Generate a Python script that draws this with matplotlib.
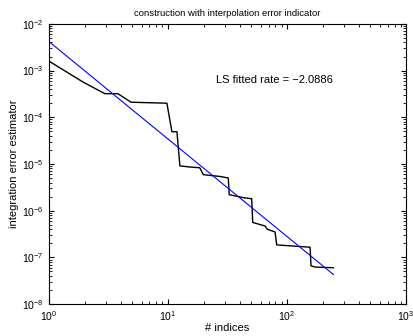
import matplotlib
matplotlib.use('Agg')
import matplotlib.pyplot as plt
from matplotlib.ticker import LogLocator, NullFormatter

plt.rcParams['font.family'] = ['Liberation Sans', 'DejaVu Sans']

# Estimator history
n_indices = [1, 1.93, 2.95, 3.8, 4.9, 9.8, 10.8, 11.9, 12.6, 15.3, 18.5,
             19.8, 27.4, 32.1, 32.7, 43, 50.5, 51.5, 65.3, 68.4, 79.3,
             81.9, 156, 159, 172, 245]
est_err = [1.6e-3, 5.7e-4, 3.2e-4, 3.2e-4, 2.1e-4, 2.0e-4, 4.9e-5, 4.9e-5,
           9.1e-6, 8.6e-6, 8.3e-6, 5.9e-6, 5.4e-6, 5.0e-6, 2.2e-6, 1.9e-6,
           1.8e-6, 5.6e-7, 4.7e-7, 4.0e-7, 3.5e-7, 1.85e-7, 1.65e-7,
           6.6e-8, 6.2e-8, 6.0e-8]

# Least-squares fitted line endpoints
fit_n = [1, 245]
fit_err = [4.2e-3, 4.3e-8]
fit_rate = -2.0886

fig = plt.figure(figsize=(4.14, 3.36), dpi=100)
ax = fig.add_axes([0.118, 0.095, 0.863, 0.834])

ax.loglog(n_indices, est_err, color='black', lw=1.0)
ax.loglog(fit_n, fit_err, color='blue', lw=0.8)

ax.set_xlim(1, 1e3)
ax.set_ylim(1e-8, 1e-2)
ax.xaxis.set_major_locator(LogLocator(base=10, numticks=10))
ax.yaxis.set_major_locator(LogLocator(base=10, numticks=10))
ax.xaxis.set_minor_locator(LogLocator(base=10, subs=range(2, 10), numticks=20))
ax.yaxis.set_minor_locator(LogLocator(base=10, subs=range(2, 10), numticks=20))
ax.xaxis.set_minor_formatter(NullFormatter())
ax.yaxis.set_minor_formatter(NullFormatter())
ax.tick_params(which='both', direction='in', top=True, right=True, labelsize=7.5)
ax.tick_params(which='major', length=3.5)
ax.tick_params(which='minor', length=2)

ax.text(0.468, 0.79, 'LS fitted rate = \u22122.0886', transform=ax.transAxes,
        fontsize=8)
ax.set_title('construction with interpolation error indicator', fontsize=6.8, pad=6)
ax.set_xlabel('# indices', fontsize=8, labelpad=0)
ax.set_ylabel('integration error estimator', fontsize=8, labelpad=2)

plt.savefig('out.png', dpi=100)
